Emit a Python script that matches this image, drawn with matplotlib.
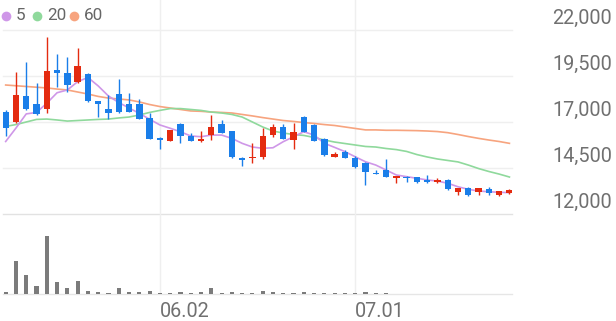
import matplotlib.pyplot as plt
from matplotlib.transforms import blended_transform_factory, offset_copy

plt.rcParams['font.family'] = ['Roboto', 'DejaVu Sans']

# 일봉 (05.12 ~ 07.22), 값은 그림에서 읽은 근사치
opens = [17530, 16980, 18410, 17980, 17690, 19810, 19680, 19160, 19610, 18120,
         17720, 18540, 17980, 17980, 17200, 16110, 15980, 16880, 16260, 15970,
         16310, 16880, 16510, 15030, 15030, 15110, 16290, 16750, 16020, 17290,
         16840, 16060, 15100, 15390, 15030, 14790, 14250, 14390, 13940, 14030,
         14000, 13850, 13720, 13850, 13210, 13400, 13210, 13360, 13030, 13130]
highs = [17650, 19700, 20250, 19100, 21600, 20680, 20550, 21000, 19640, 18130,
         18470, 19320, 18560, 18230, 17470, 16170, 16570, 16960, 16420, 16530,
         17400, 17110, 16510, 15080, 15840, 16660, 16890, 16880, 16960, 17340,
         16890, 16110, 15390, 15480, 15150, 14840, 14390, 14970, 14070, 14070,
         14030, 14120, 13940, 13890, 13430, 13480, 13430, 13480, 13270, 13340]
lows = [16240, 16930, 17650, 17380, 17470, 18890, 18650, 19120, 18100, 17260,
        17150, 17500, 17560, 17180, 16060, 15530, 15970, 15880, 15970, 15930,
        16020, 16420, 15030, 14630, 14760, 14970, 16200, 16060, 15530, 16440,
        15980, 15150, 15100, 15030, 14520, 13580, 14170, 14000, 13700, 13760,
        13670, 13700, 13700, 13300, 13020, 12980, 13030, 13030, 12980, 13090]
closes = [16660, 18470, 17690, 17440, 19770, 19650, 19010, 20040, 18140, 17980,
          17510, 17560, 17560, 17180, 16060, 16020, 16570, 16240, 15970, 16060,
          16710, 16420, 15110, 14950, 15110, 16240, 16710, 16060, 16470, 16440,
          15980, 15210, 15240, 15030, 14570, 14300, 14170, 14000, 14070, 13940,
          13740, 13760, 13850, 13340, 13430, 13030, 13400, 13160, 13270, 13300]

# 이동평균선
ma5 = [15940, 16670, 17440, 17520, 18020, 18590, 18740, 19190, 19420, 18960,
       18410, 18060, 17760, 17470, 17150, 16840, 16660, 16470, 16240, 16200,
       16290, 16290, 16110, 15840, 15640, 15570, 15600, 15930, 16200, 16470,
       16290, 15840, 15620, 15390, 15110, 14840, 14660, 14390, 14120, 14030,
       13940, 13850, 13790, 13670, 13480, 13340, 13250, 13210, 13180, 13160]
ma20 = [16760, 16860, 17000, 17140, 17160, 17110, 17050, 17080, 17110, 17140,
        17160, 17220, 17270, 17380, 17520, 17630, 17730, 17730, 17680, 17630,
        17540, 17490, 17410, 17270, 17000, 16730, 16510, 16400, 16320, 16270,
        16160, 16020, 15910, 15830, 15750, 15670, 15640, 15560, 15500, 15400,
        15230, 15100, 14990, 14910, 14830, 14660, 14470, 14310, 14170, 14010]
ma60 = [19010, 18970, 18930, 18890, 18850, 18790, 18740, 18630, 18520, 18390,
        18300, 18250, 18200, 18090, 17950, 17840, 17760, 17680, 17600, 17580,
        17540, 17520, 17490, 17410, 17330, 17240, 17160, 17080, 17030, 16970,
        16920, 16860, 16810, 16730, 16650, 16570, 16570, 16550, 16550, 16540,
        16530, 16510, 16480, 16420, 16320, 16210, 16110, 16020, 15940, 15840]

# 거래량 (천주)
volumes = [46, 654, 366, 154, 1154, 234, 126, 260, 60, 34,
           20, 126, 46, 34, 66, 14, 20, 34, 20, 34,
           114, 26, 34, 14, 26, 66, 34, 14, 26, 34,
           26, 10, 10, 10, 14, 34, 10, 26, 8, 8,
           8, 8, 8, 8, 8, 8, 8, 8, 8, 8]

x_ticks = [15, 34]
x_labels = ['06.02', '07.01']
y_ticks = [12000, 14500, 17000, 19500, 22000]
ma_names = ['5', '20', '60']

UP = '#e42b10'
DOWN = '#1a7ee9'
MA_COLORS = ['#cf97e8', '#8fd99c', '#f7a47f']
GRID = '#efefef'
TXT = '#707070'

W, H = 616, 321
fig = plt.figure(figsize=(W / 100, H / 100), dpi=100)
ax = fig.add_axes([3 / W, 1 - 214 / H, 509 / W, 214 / H])
axv = fig.add_axes([3 / W, 1 - 294 / H, 509 / W, 80 / H])
for a in (ax, axv):
    a.set_xlim(-0.26, 49.25)
    a.set_axis_off()
ax.set_ylim(12000, 23630)
axv.set_ylim(0, 1580)

# 격자
for v in y_ticks:
    ax.axhline(v, color='#e2e2e2' if v == y_ticks[0] else GRID, lw=1,
               zorder=0, clip_on=False)
for i in x_ticks:
    ax.axvline(i, color=GRID, lw=1, zorder=0)
    axv.axvline(i, color=GRID, lw=1, zorder=0)
axv.axhline(0, color='#e6e6e6', lw=1, zorder=0, clip_on=False)

# 이동평균선
idx = list(range(len(closes)))
for vals, c in zip([ma60, ma20, ma5], MA_COLORS[::-1]):
    ax.plot(idx, vals, color=c, lw=1.2, zorder=2)

# 캔들
colors = [UP if c > o else DOWN for o, c in zip(opens, closes)]
ax.vlines(idx, lows, highs, colors=colors, lw=1.0, zorder=3)
bottoms = [min(o, c) for o, c in zip(opens, closes)]
heights = [max(abs(c - o), 70) for o, c in zip(opens, closes)]
ax.bar(idx, heights, bottom=bottoms, width=0.62, color=colors, zorder=4)

# 거래량
axv.bar(idx, volumes, width=0.4, color='#7b7b7b', zorder=2)

# y축 라벨
ytrans = offset_copy(blended_transform_factory(fig.transFigure, ax.transData),
                     fig=fig, y=6, units='dots')
for v in y_ticks:
    ax.text(612 / W, v, f'{v:,}', transform=ytrans, ha='right', va='baseline',
            fontsize=14.3, color=TXT)

# x축 라벨
xtrans = blended_transform_factory(axv.transData, fig.transFigure)
for i, lab in zip(x_ticks, x_labels):
    axv.text(i, 1 - 317 / H, lab, transform=xtrans, ha='left', va='baseline',
             fontsize=14.3, color=TXT)

# 범례
dot_x = [6, 37, 74]
for px, name, c in zip(dot_x, ma_names, MA_COLORS):
    ax.plot([px / W], [1 - 15.7 / H], 'o', ms=7, color=c, mec='none',
            transform=fig.transFigure, clip_on=False)
    fig.text((px + 10) / W, 1 - 15.7 / H, name, ha='left', va='center',
             fontsize=12.3, color='#666666')

fig.savefig('out.png', dpi=100, facecolor='white')
